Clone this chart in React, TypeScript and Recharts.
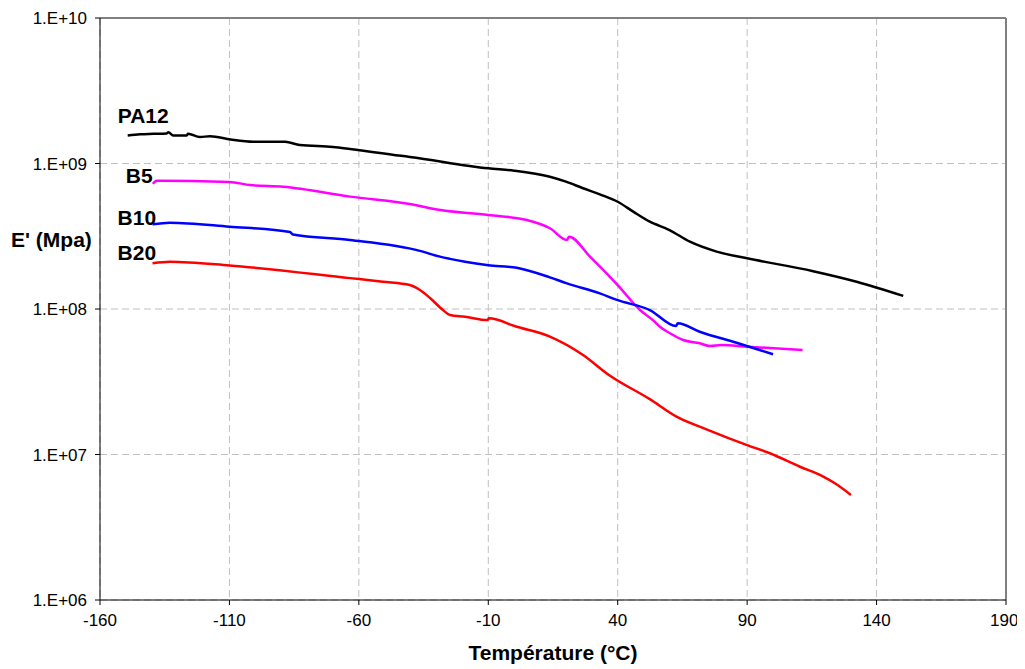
import React from "react";
import { CartesianGrid, Line, LineChart, ReferenceLine, XAxis, YAxis } from "recharts";

const font = "'Liberation Sans', Arial, sans-serif";

const xTicks = [-160, -110, -60, -10, 40, 90, 140, 190];
const yTicks = [1e6, 1e7, 1e8, 1e9, 1e10];

// PA12
const pa12Temp = [-149.3, -144.5, -139.4, -134.3, -133.6, -131.7, -126.5, -126, -121.4, -117.5, -109.5, -100.8, -88.5, -82.8, -70, -63.4, -42, -40.3, -10, 0, 13.8, 20, 26.6, 33.1, 40, 46, 52.4, 60, 67.9, 78.2, 90, 115.5, 132.3, 150.3];
const pa12E = [1.56e9, 1.59e9, 1.6e9, 1.61e9, 1.64e9, 1.56e9, 1.56e9, 1.6e9, 1.52e9, 1.54e9, 1.46e9, 1.41e9, 1.41e9, 1.34e9, 1.3e9, 1.26e9, 1.12e9, 1.11e9, 9.27e8, 8.93e8, 8.11e8, 7.5e8, 6.76e8, 6.14e8, 5.46e8, 4.67e8, 3.98e8, 3.49e8, 2.9e8, 2.48e8, 2.23e8, 1.82e8, 1.54e8, 1.23e8];

// B5
const b5Temp = [-139.6, -138, -110, -102, -89.3, -63.4, -36.4, -32.5, -10, 4.9, 13.8, 20.4, 21.2, 29.3, 40, 48.6, 53.6, 56.3, 60.2, 65.3, 71.7, 75.6, 80.1, 89.8, 111.4];
const b5E = [7.26e8, 7.62e8, 7.46e8, 7.11e8, 6.92e8, 5.92e8, 5.11e8, 4.92e8, 4.43e8, 4.09e8, 3.59e8, 2.98e8, 3.14e8, 2.29e8, 1.46e8, 9.84e7, 8.39e7, 7.55e7, 6.81e7, 6.12e7, 5.81e7, 5.57e7, 5.66e7, 5.51e7, 5.22e7];

// B10
const b10Temp = [-139.7, -133, -110, -86.6, -85.5, -63.4, -36.4, -28.7, -24.8, -19, -10, 1, 13.8, 20.4, 33.1, 40, 52.4, 62.5, 63.2, 71.7, 85.9, 100];
const b10E = [3.82e8, 3.92e8, 3.68e8, 3.38e8, 3.25e8, 2.98e8, 2.51e8, 2.29e8, 2.21e8, 2.11e8, 2.0e8, 1.92e8, 1.65e8, 1.5e8, 1.28e8, 1.15e8, 9.84e7, 7.64e7, 7.98e7, 6.98e7, 5.86e7, 4.89e7];

// B20
const b20Temp = [-139.7, -133, -110, -63.4, -50.7, -40.3, -36.4, -32.5, -27.5, -24.8, -19, -10.3, -9.8, 1, 13.8, 26.6, 36.6, 52.4, 62.7, 74.3, 90, 98.8, 110.4, 119.4, 123.9, 130.1];
const b20E = [2.06e8, 2.11e8, 1.99e8, 1.63e8, 1.54e8, 1.46e8, 1.35e8, 1.19e8, 9.84e7, 9.1e7, 8.85e7, 8.39e7, 8.63e7, 7.55e7, 6.46e7, 4.83e7, 3.52e7, 2.4e7, 1.82e7, 1.49e7, 1.16e7, 1.02e7, 8.24e6, 7.05e6, 6.34e6, 5.27e6];

const toRows = (temps: number[], values: number[]) => temps.map((t, i) => ({ t, e: values[i] }));

const series = [
  { name: "PA12", color: "#000000", rows: toRows(pa12Temp, pa12E), dx: -10, dy: -12 },
  { name: "B5", color: "#ff00ff", rows: toRows(b5Temp, b5E), dx: -27, dy: -1 },
  { name: "B10", color: "#0000ff", rows: toRows(b10Temp, b10E), dx: -35, dy: 1 },
  { name: "B20", color: "#ff0000", rows: toRows(b20Temp, b20E), dx: -35, dy: -3 },
];

const formatExp = (v: number) => `1.E+${String(Math.round(Math.log10(v))).padStart(2, "0")}`;

function seriesLabel(name: string, dx: number, dy: number) {
  return (props: any) => {
    if (props.index !== 0) return null;
    return (
      <text x={props.x + dx} y={props.y + dy} fill="#000" fontSize={21} fontWeight="bold" fontFamily={font}>
        {name}
      </text>
    );
  };
}

export default function App() {
  return (
    <div style={{ position: "relative", width: 1009, height: 660, fontFamily: font }}>
      <LineChart width={1009} height={660} margin={{ top: 10, right: 11, bottom: 0, left: 0 }}>
        <CartesianGrid stroke="#c0c0c0" strokeDasharray="7 4" />
        <XAxis
          type="number"
          dataKey="t"
          domain={[-160, 190]}
          ticks={xTicks}
          allowDataOverflow
          height={68}
          stroke="#000"
          tickSize={5}
          tickMargin={9}
          tick={{ fill: "#000", fontSize: 17, fontFamily: font }}
          label={{ value: "Température (°C)", position: "insideBottom", offset: 8, fill: "#000", fontSize: 21, fontWeight: "bold", fontFamily: font }}
        />
        <YAxis
          type="number"
          dataKey="e"
          scale="log"
          domain={[1e6, 1e10]}
          ticks={yTicks}
          allowDataOverflow
          width={92}
          stroke="#000"
          tickSize={5}
          tickMargin={8}
          tickFormatter={formatExp}
          tick={{ fill: "#000", fontSize: 17, fontFamily: font }}
        />
        <ReferenceLine y={1e10} stroke="#808080" strokeWidth={2} ifOverflow="visible" />
        <ReferenceLine x={190} stroke="#808080" strokeWidth={2} ifOverflow="visible" />
        {series.map((s) => (
          <Line
            key={s.name}
            data={s.rows}
            dataKey="e"
            type="monotone"
            stroke={s.color}
            strokeWidth={2.5}
            dot={false}
            isAnimationActive={false}
            label={seriesLabel(s.name, s.dx, s.dy)}
          />
        ))}
      </LineChart>
      <div style={{ position: "absolute", left: 3, top: 220, fontSize: 21, fontWeight: "bold", color: "#000", whiteSpace: "nowrap" }}>
        E' (Mpa)
      </div>
    </div>
  );
}
